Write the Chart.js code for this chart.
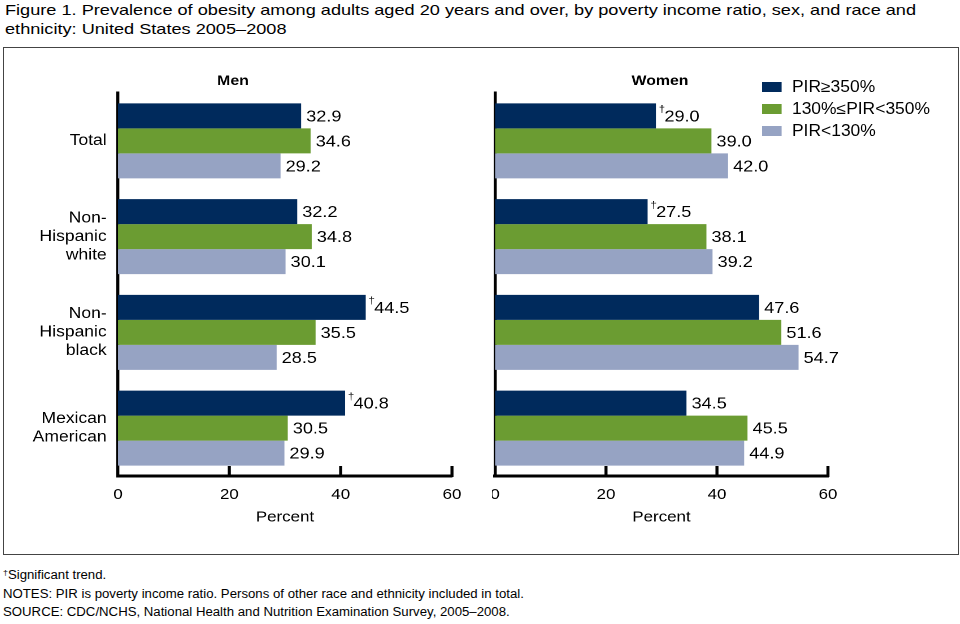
<!DOCTYPE html>
<html>
<head>
<meta charset="utf-8">
<script src="https://cdn.jsdelivr.net/npm/chart.js@4"></script>
<style>
    body { margin: 0; background: #fff; font-family: "Liberation Sans", Arial, sans-serif; color: #000; }
    #page { position: relative; width: 960px; height: 624px; overflow: hidden; }
    .wide { transform-origin: 0 0; white-space: nowrap; }
    #title { position: absolute; left: 5px; top: 0px; font-size: 15px; line-height: 19px; transform: scaleX(1.21); }
    #frame { position: absolute; left: 3px; top: 47px; width: 954px; height: 506px; border: 1px solid #444; }
    .panel { position: absolute; top: 48px; height: 500px; transform: scaleX(1.13); }
    #legend { position: absolute; left: 762px; top: 76px; font-size: 16px; transform: scaleX(1.09); }
    .item { height: 22px; line-height: 22px; }
    .swatch { display: inline-block; width: 18.3px; height: 10px; margin-right: 9.2px; }
    #notes { position: absolute; left: 3px; top: 566px; font-size: 12px; line-height: 18.7px; transform: scaleX(1.1); }
    #notes sup { font-size: 8px; vertical-align: 4px; line-height: 0; }
</style>
</head>
<body>
<div id="page">
    <div id="title" class="wide">Figure 1. Prevalence of obesity among adults aged 20 years and over, by poverty income ratio, sex, and race and<br>ethnicity: United States 2005–2008</div>
    <div id="frame"></div>
    <div class="panel wide" style="left:14px; width:420px;"><canvas id="men-chart" width="420" height="500"></canvas></div>
    <div class="panel wide" style="left:492px; width:350px;"><canvas id="women-chart" width="350" height="500"></canvas></div>
    <div id="legend" class="wide"></div>
    <div id="notes" class="wide">
        <div><sup>†</sup>Significant trend.</div>
        <div>NOTES: PIR is poverty income ratio. Persons of other race and ethnicity included in total.</div>
        <div>SOURCE: CDC/NCHS, National Health and Nutrition Examination Survey, 2005–2008.</div>
    </div>
</div>
<script>
const categories = ["Total", ["Non-", "Hispanic", "white"], ["Non-", "Hispanic", "black"], ["Mexican", "American"]];
const seriesNames = ["PIR≥350%", "130%≤PIR<350%", "PIR<130%"];
const seriesColors = ["#002a5c", "#6b9c32", "#96a3c3"];
const xTicks = [0, 20, 40, 60];

const menHigh = [32.9, 32.2, 44.5, 40.8];
const menMid = [34.6, 34.8, 35.5, 30.5];
const menLow = [29.2, 30.1, 28.5, 29.9];
const menTrend = [false, false, true, true]; // dagger on PIR>=350% bars

const womenHigh = [29.0, 27.5, 47.6, 34.5];
const womenMid = [39.0, 38.1, 51.6, 45.5];
const womenLow = [42.0, 39.2, 54.7, 44.9];
const womenTrend = [true, true, false, false];

const FONT = '"Liberation Sans", Arial, sans-serif';
Chart.defaults.font.family = FONT;
Chart.defaults.color = '#000';

// bar value labels, with a small dagger in front where the trend is significant
const valueLabels = {
    id: 'valueLabels',
    afterDatasetsDraw(chart)
    {
        const ctx = chart.ctx;
        ctx.save();
        ctx.fillStyle = '#000';
        ctx.textBaseline = 'middle';
        ctx.textAlign = 'left';
        chart.data.datasets.forEach((ds, di) => {
            const meta = chart.getDatasetMeta(di);
            meta.data.forEach((bar, i) => {
                let x = bar.x + 4.5;
                if (ds.trend && ds.trend[i])
                {
                    ctx.font = '10px ' + FONT;
                    ctx.fillText('†', bar.x + 2.5, bar.y - 6);
                    x = bar.x + 7.5;
                }
                ctx.font = '16px ' + FONT;
                ctx.fillText(ds.data[i].toFixed(1), x, bar.y + 1);
            });
        });
        ctx.restore();
    }
};

// tick marks point up into the plot
const innerTicks = {
    id: 'innerTicks',
    afterDraw(chart)
    {
        const ctx = chart.ctx;
        const x = chart.scales.x;
        ctx.save();
        ctx.strokeStyle = '#000';
        ctx.lineWidth = 2.7;
        xTicks.slice(1).forEach(v => {
            const px = x.getPixelForValue(v);
            ctx.beginPath();
            ctx.moveTo(px, x.top + 1);
            ctx.lineTo(px, x.top - 10);
            ctx.stroke();
        });
        ctx.restore();
    }
};

function make_chart(id, title, high, mid, low, trend, showLabels, axisWidth, padRight)
{
    const ctx = document.getElementById(id).getContext('2d');
    return new Chart(ctx, {
        type: 'bar',
        data: {
            labels: categories,
            datasets: [
                { label: seriesNames[0], data: high, backgroundColor: seriesColors[0], trend: trend },
                { label: seriesNames[1], data: mid, backgroundColor: seriesColors[1] },
                { label: seriesNames[2], data: low, backgroundColor: seriesColors[2] }
            ]
        },
        options: {
            indexAxis: 'y',
            responsive: false,
            devicePixelRatio: 2,
            animation: false,
            categoryPercentage: 0.783,
            barPercentage: 1,
            layout: { padding: { left: 0, right: padRight, top: 0, bottom: 0 } },
            plugins: {
                legend: { display: false },
                tooltip: { enabled: false },
                title: {
                    display: true,
                    text: title,
                    font: { size: 14, weight: 'bold' },
                    color: '#000',
                    padding: { top: 24.5, bottom: 3.7 }
                }
            },
            scales: {
                x: {
                    min: 0,
                    max: 60,
                    afterBuildTicks: scale => { scale.ticks = xTicks.map(v => ({ value: v })); },
                    afterFit: scale => {
                        scale.height = 72;
                        scale.paddingLeft = 0; // don't let the "0" label push the plot right
                        scale.paddingRight = 0;
                    },
                    grid: { display: false, drawTicks: false },
                    border: { display: true, width: 3, color: '#000' },
                    ticks: { font: { size: 15 }, padding: 10, color: '#000' },
                    title: { display: true, text: 'Percent', font: { size: 15 }, color: '#000', padding: { top: 0, bottom: 21.5 } }
                },
                y: {
                    afterFit: scale => { scale.width = axisWidth; },
                    grid: { display: false, drawTicks: false },
                    border: { display: true, width: 2.7, color: '#000' },
                    ticks: { display: showLabels, font: { size: 15.5, lineHeight: 1.19 }, padding: 10, color: '#000' }
                }
            }
        },
        plugins: [valueLabels, innerTicks]
    });
}

// panels are stretched by 1.13 horizontally, so widths here are in unstretched units
make_chart('men-chart', 'Men', menHigh, menMid, menLow, menTrend, true, 92, 32.4);
make_chart('women-chart', 'Women', womenHigh, womenMid, womenLow, womenTrend, false, 2.65, 52.7);

// legend built from the series names and colours
const legend = document.getElementById('legend');
seriesNames.forEach((name, i) => {
    const item = document.createElement('div');
    item.className = 'item';
    const sw = document.createElement('span');
    sw.className = 'swatch';
    sw.style.background = seriesColors[i];
    item.appendChild(sw);
    item.appendChild(document.createTextNode(name));
    legend.appendChild(item);
});
</script>
</body>
</html>
